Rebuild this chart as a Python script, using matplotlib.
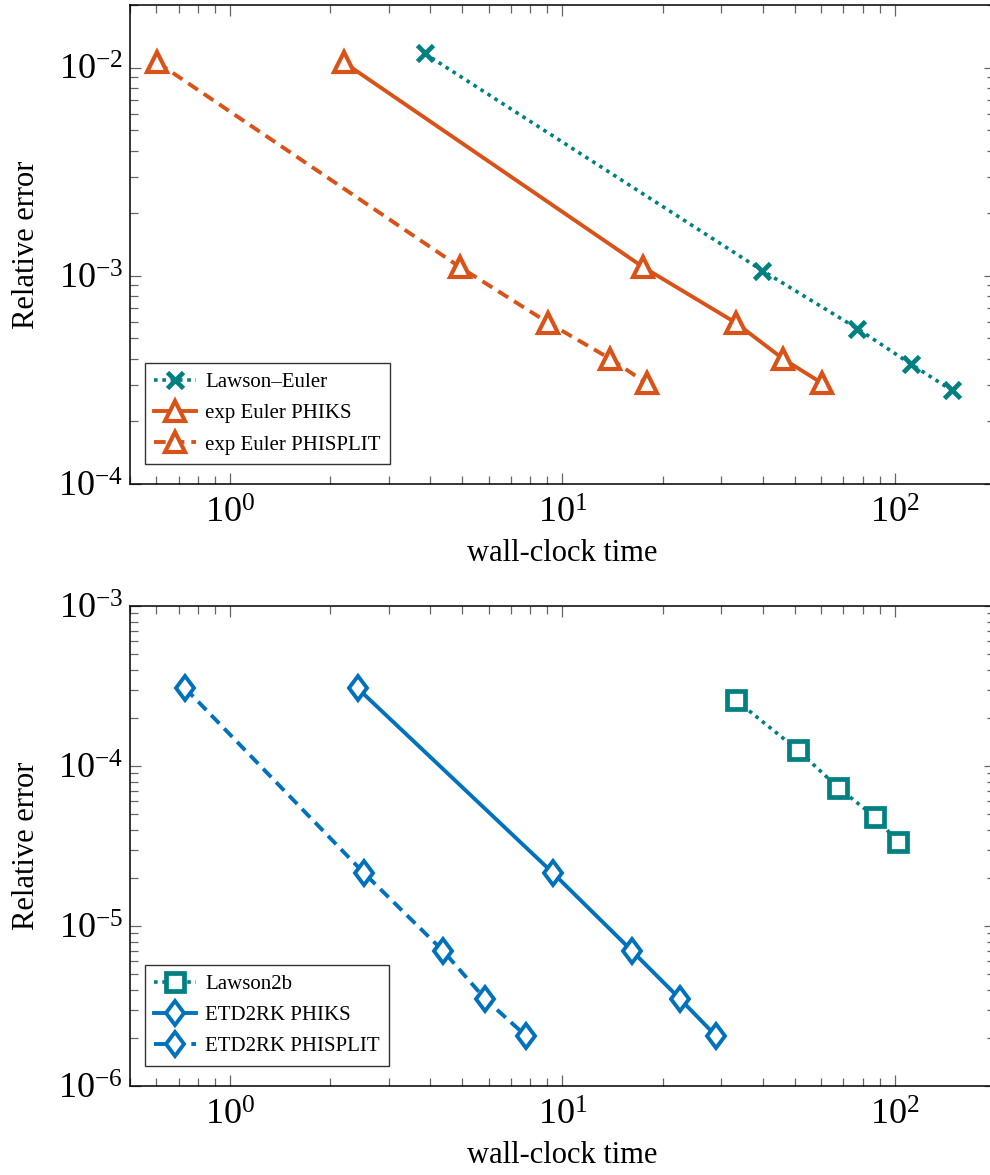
import matplotlib
matplotlib.use("Agg")
import matplotlib.pyplot as plt
from matplotlib.markers import MarkerStyle
from matplotlib.transforms import Affine2D
from matplotlib.ticker import LogLocator, NullFormatter

plt.rcParams["font.family"] = ["Liberation Serif", "DejaVu Serif"]
plt.rcParams["mathtext.fontset"] = "stix"

# --- datos ---
# panel superior: metodos de orden 1
err_lawson_euler = [0.0117, 1.06e-3, 5.58e-4, 3.76e-4, 2.82e-4]
t_lawson_euler = [3.85, 39.9, 77.1, 111.9, 148.3]

err_exp_euler = [0.0106, 1.1e-3, 5.95e-4, 4.0e-4, 3.05e-4]
t_exp_euler_phiks = [2.20, 17.5, 33.2, 46.0, 60.3]
t_exp_euler_phisplit = [0.604, 4.92, 9.06, 13.9, 17.9]

# panel inferior: metodos de orden 2
err_lawson2b = [2.57e-4, 1.26e-4, 7.3e-5, 4.8e-5, 3.36e-5]
t_lawson2b = [33.3, 51.0, 67.6, 87.2, 102.0]

err_etd2rk = [3.06e-4, 2.14e-5, 6.97e-6, 3.49e-6, 2.05e-6]
t_etd2rk_phiks = [2.42, 9.37, 16.2, 22.6, 29.0]
t_etd2rk_phisplit = [0.733, 2.53, 4.38, 5.86, 7.78]

TEAL = "#008080"
ORANGE = "#D95319"
BLUE = "#0072BD"

fig = plt.figure(figsize=(9.9, 11.75), dpi=100)
ax1 = fig.add_axes([130/990, 691/1175, 865/990, 479/1175])
ax2 = fig.add_axes([130/990, 89/1175, 865/990, 480/1175])

dot = (0, (1, 1.3))
dash = (0, (3, 1.8))
rombo = MarkerStyle("D", transform=Affine2D().scale(0.8, 1.0))

ax1.plot(t_lawson_euler, err_lawson_euler, color=TEAL, ls=dot, lw=2.6,
         marker="x", ms=11, mew=3.4, label="Lawson–Euler")
ax1.plot(t_exp_euler_phiks, err_exp_euler, color=ORANGE, ls="-", lw=2.8,
         marker="^", ms=14, mew=3.0, mfc="white", label="exp Euler PHIKS")
ax1.plot(t_exp_euler_phisplit, err_exp_euler, color=ORANGE, ls=dash, lw=2.8,
         marker="^", ms=14, mew=3.0, mfc="white", label="exp Euler PHISPLIT")
ax1.set_ylim(1e-4, 2e-2)

ax2.plot(t_lawson2b, err_lawson2b, color=TEAL, ls=dot, lw=2.6,
         marker="s", ms=13, mew=3.4, mfc="white", label="Lawson2b")
ax2.plot(t_etd2rk_phiks, err_etd2rk, color=BLUE, ls="-", lw=2.8,
         marker=rombo, ms=12, mew=2.8, mfc="white", label="ETD2RK PHIKS")
ax2.plot(t_etd2rk_phisplit, err_etd2rk, color=BLUE, ls=dash, lw=2.8,
         marker=rombo, ms=12, mew=2.8, mfc="white", label="ETD2RK PHISPLIT")
ax2.set_ylim(1e-6, 1e-3)

for ax in (ax1, ax2):
    ax.set_xscale("log")
    ax.set_yscale("log")
    ax.set_xlim(0.5, 200)
    ax.xaxis.set_major_locator(LogLocator(base=10, numticks=10))
    ax.xaxis.set_minor_locator(LogLocator(base=10, subs=range(2, 10), numticks=10))
    ax.yaxis.set_minor_locator(LogLocator(base=10, subs=range(2, 10), numticks=10))
    ax.xaxis.set_minor_formatter(NullFormatter())
    ax.yaxis.set_minor_formatter(NullFormatter())
    ax.tick_params(which="both", direction="in", top=True, right=True,
                   color="#666666", width=0.9, labelsize=26)
    ax.tick_params(which="major", length=8)
    ax.tick_params(which="minor", length=5.5)
    ax.tick_params(axis="x", which="major", pad=10)
    ax.tick_params(axis="y", which="major", pad=5)
    for s in ax.spines.values():
        s.set_linewidth(1.1)
    ax.set_xlabel("wall-clock time", fontsize=22, labelpad=6)
    ax.set_ylabel("Relative error", fontsize=22, labelpad=12)
    leg = ax.legend(loc="lower left", bbox_to_anchor=(0.017, 0.042), borderaxespad=0,
                    fontsize=15, frameon=True, fancybox=False, edgecolor="black",
                    handlelength=2.0, handletextpad=0.45, numpoints=1,
                    borderpad=0.45, labelspacing=0.55)
    leg.get_frame().set_linewidth(1.0)

fig.savefig("out.png", dpi=100)
